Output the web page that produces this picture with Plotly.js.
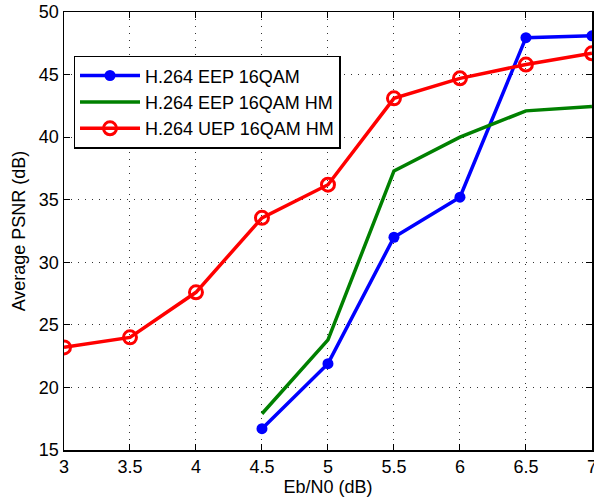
<!DOCTYPE html>
<html>
<head>
<meta charset="utf-8">
<script src="https://cdn.plot.ly/plotly-3.0.1.min.js"></script>
<style>html,body{margin:0;padding:0;background:#fff;}#chart{width:594px;height:502px;}</style>
</head>
<body>
<div id="chart"></div>
<script>
const ebn0 = [3, 3.5, 4, 4.5, 5, 5.5, 6, 6.5, 7];
const eepX = [4.5, 5, 5.5, 6, 6.5, 7];
const eep16qam = [16.7, 21.9, 32.0, 35.2, 47.95, 48.1];
const eep16qamHM = [17.9, 23.8, 37.3, 40.0, 42.1, 42.45];
const uep16qamHM = [23.2, 24.0, 27.6, 33.55, 36.2, 43.1, 44.7, 45.8, 46.7];
const names = ['H.264 EEP 16QAM', 'H.264 EEP 16QAM HM', 'H.264 UEP 16QAM HM'];
const xTicks = [3, 3.5, 4, 4.5, 5, 5.5, 6, 6.5, 7];
const yTicks = [15, 20, 25, 30, 35, 40, 45, 50];

const traces = [
  {x: eepX, y: eep16qam, name: names[0], mode: 'lines+markers',
   line: {color: '#0000ff', width: 3.5},
   marker: {symbol: 'circle', size: 11, color: '#0000ff'}},
  {x: eepX, y: eep16qamHM, name: names[1], mode: 'lines',
   line: {color: '#008000', width: 3.5}},
  {x: ebn0, y: uep16qamHM, name: names[2], mode: 'lines+markers',
   line: {color: '#ff0000', width: 3.5},
   marker: {symbol: 'circle-open', size: 13, color: '#ff0000', line: {width: 3, color: '#ff0000'}}}
];

const fnt = {family: 'Liberation Sans, Arial, sans-serif', size: 18, color: '#000'};
const axisCommon = {
  showline: true, linecolor: '#000', linewidth: 1.5, mirror: 'ticks',
  ticks: 'inside', ticklen: 6, tickcolor: '#000', tickwidth: 1,
  showgrid: true, gridcolor: '#333', gridwidth: 1, griddash: '1px,6px',
  zeroline: false, tickfont: fnt, automargin: false, ticklabeloverflow: 'allow'
};
const layout = {
  width: 594, height: 502,
  margin: {l: 64, r: 2, t: 12, b: 52},
  paper_bgcolor: '#fff', plot_bgcolor: '#fff',
  font: fnt,
  showlegend: true,
  legend: {x: 0.018, y: 0.9, xanchor: 'left', yanchor: 'top',
           bgcolor: '#fff', bordercolor: '#000', borderwidth: 1.5,
           font: fnt, tracegroupgap: 2, itemwidth: 60},
  xaxis: Object.assign({}, axisCommon, {
    range: [3, 7.0005], tickvals: xTicks, ticktext: xTicks.map(String),
    title: {text: 'Eb/N0 (dB)', font: fnt, standoff: 4}
  }),
  yaxis: Object.assign({}, axisCommon, {
    range: [15, 50], tickvals: yTicks, ticktext: yTicks.map(String),
    title: {text: 'Average PSNR (dB)', font: fnt, standoff: 8}
  })
};
Plotly.newPlot('chart', traces, layout, {displayModeBar: false, staticPlot: true});
</script>
</body>
</html>
